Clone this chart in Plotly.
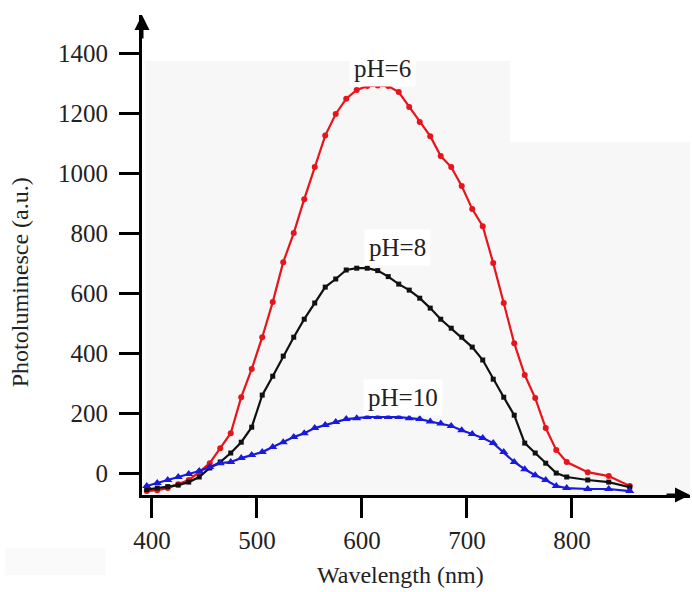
import plotly.graph_objects as go

wavelength = [395, 405, 415, 425, 435, 445, 455, 465, 475, 485, 495, 505, 515, 525, 535,
              545, 555, 565, 575, 585, 595, 605, 615, 625, 635, 645, 655, 665, 675, 685,
              695, 705, 715, 725, 735, 745, 755, 765, 775, 785, 795, 815, 835, 855]

ph6 = [-60, -57, -50, -37, -23, 3, 33, 83, 133, 253, 347, 453, 570, 703, 800,
       913, 1020, 1125, 1197, 1248, 1277, 1290, 1292, 1290, 1270, 1220, 1170, 1123, 1057, 1020,
       957, 880, 823, 700, 567, 433, 327, 250, 150, 77, 37, 3, -10, -43]

ph8 = [-55, -50, -45, -40, -30, -13, 17, 37, 67, 103, 153, 260, 323, 390, 453,
       513, 567, 620, 647, 677, 683, 683, 675, 655, 630, 610, 583, 550, 513, 483,
       453, 420, 377, 313, 253, 193, 100, 67, 33, 0, -13, -23, -30, -47]

ph10 = [-43, -33, -23, -13, -3, 7, 20, 33, 37, 50, 60, 70, 87, 103, 120,
        133, 150, 160, 170, 180, 183, 187, 187, 187, 187, 183, 180, 172, 165, 157,
        143, 130, 117, 100, 70, 37, 13, -7, -23, -43, -50, -53, -53, -60]

y_ticks = [0, 200, 400, 600, 800, 1000, 1200, 1400]
x_ticks = [400, 500, 600, 700, 800]

series = [
    ("pH=6", ph6, "#e8141c", "circle", 6),
    ("pH=8", ph8, "#111111", "square", 5),
    ("pH=10", ph10, "#1a1adc", "triangle-up", 8),
]
labels = [("pH=6", 620, 1350), ("pH=8", 634, 753), ("pH=10", 639, 253)]

FONT = "'Liberation Serif', 'Times New Roman', 'DejaVu Serif', serif"
TXT = "#222"
fig = go.Figure()
for name, vals, color, sym, sz in series:
    fig.add_trace(go.Scatter(
        x=wavelength, y=vals, mode="lines+markers", name=name,
        line=dict(color=color, width=2.2),
        marker=dict(color=color, symbol=sym, size=sz),
        showlegend=False, cliponaxis=False))

for text, lx, ly in labels:
    fig.add_annotation(x=lx, y=ly, text=text, showarrow=False,
                       font=dict(family=FONT, size=25, color=TXT),
                       bgcolor="white", borderpad=4)

# light gray background panels (as in the reference image)
fig.add_shape(type="rect", xref="paper", yref="paper", x0=0.006, x1=0.672, y0=0, y1=0.904,
              fillcolor="#f7f7f7", line_width=0, layer="below")
fig.add_shape(type="rect", xref="paper", yref="paper", x0=0.672, x1=1.0, y0=0, y1=0.735,
              fillcolor="#f7f7f7", line_width=0, layer="below")
fig.add_shape(type="rect", xref="paper", yref="paper", x0=-0.25, x1=-0.067, y0=-0.167, y1=-0.111,
              fillcolor="#fafafa", line_width=0, layer="below")

# axis arrows
fig.add_annotation(xref="paper", yref="paper", x=0, y=1.0, ax=0, ay=25, text="",
                   showarrow=True, arrowhead=2, arrowsize=1, arrowwidth=3, arrowcolor="black")
fig.add_annotation(xref="paper", yref="paper", x=1.0, y=0, ax=-25, ay=0, text="",
                   showarrow=True, arrowhead=2, arrowsize=1, arrowwidth=3, arrowcolor="black")

# axis titles
fig.add_annotation(xref="paper", yref="paper", x=0.471, y=-0.1667, xanchor="center", yanchor="middle",
                   text="Wavelength (nm)",
                   showarrow=False, font=dict(family=FONT, size=24, color=TXT))
fig.add_annotation(xref="paper", yref="paper", x=-0.222, y=0.444, xanchor="center", yanchor="middle",
                   text="Photoluminesce (a.u.)",
                   textangle=-90, showarrow=False, font=dict(family=FONT, size=24, color=TXT))

fig.update_layout(
    width=692, height=592,
    margin=dict(l=142, r=2, t=15, b=97),
    paper_bgcolor="white", plot_bgcolor="rgba(0,0,0,0)",
    font=dict(family=FONT, size=25, color=TXT),
)
fig.update_xaxes(range=[390.5, 912.4], tickvals=x_ticks, showgrid=False, zeroline=False,
                 showline=True, linecolor="black", linewidth=3,
                 ticks="outside", ticklen=20, tickwidth=3, tickcolor="black",
                 ticklabelstandoff=1, tickfont=dict(family=FONT, size=25, color=TXT))
fig.update_yaxes(range=[-73, 1527], tickvals=y_ticks, showgrid=False, zeroline=False,
                 showline=True, linecolor="black", linewidth=3,
                 ticks="outside", ticklen=20, tickwidth=3, tickcolor="black",
                 ticklabelstandoff=6, tickfont=dict(family=FONT, size=25, color=TXT))

fig.write_html("out.html")
